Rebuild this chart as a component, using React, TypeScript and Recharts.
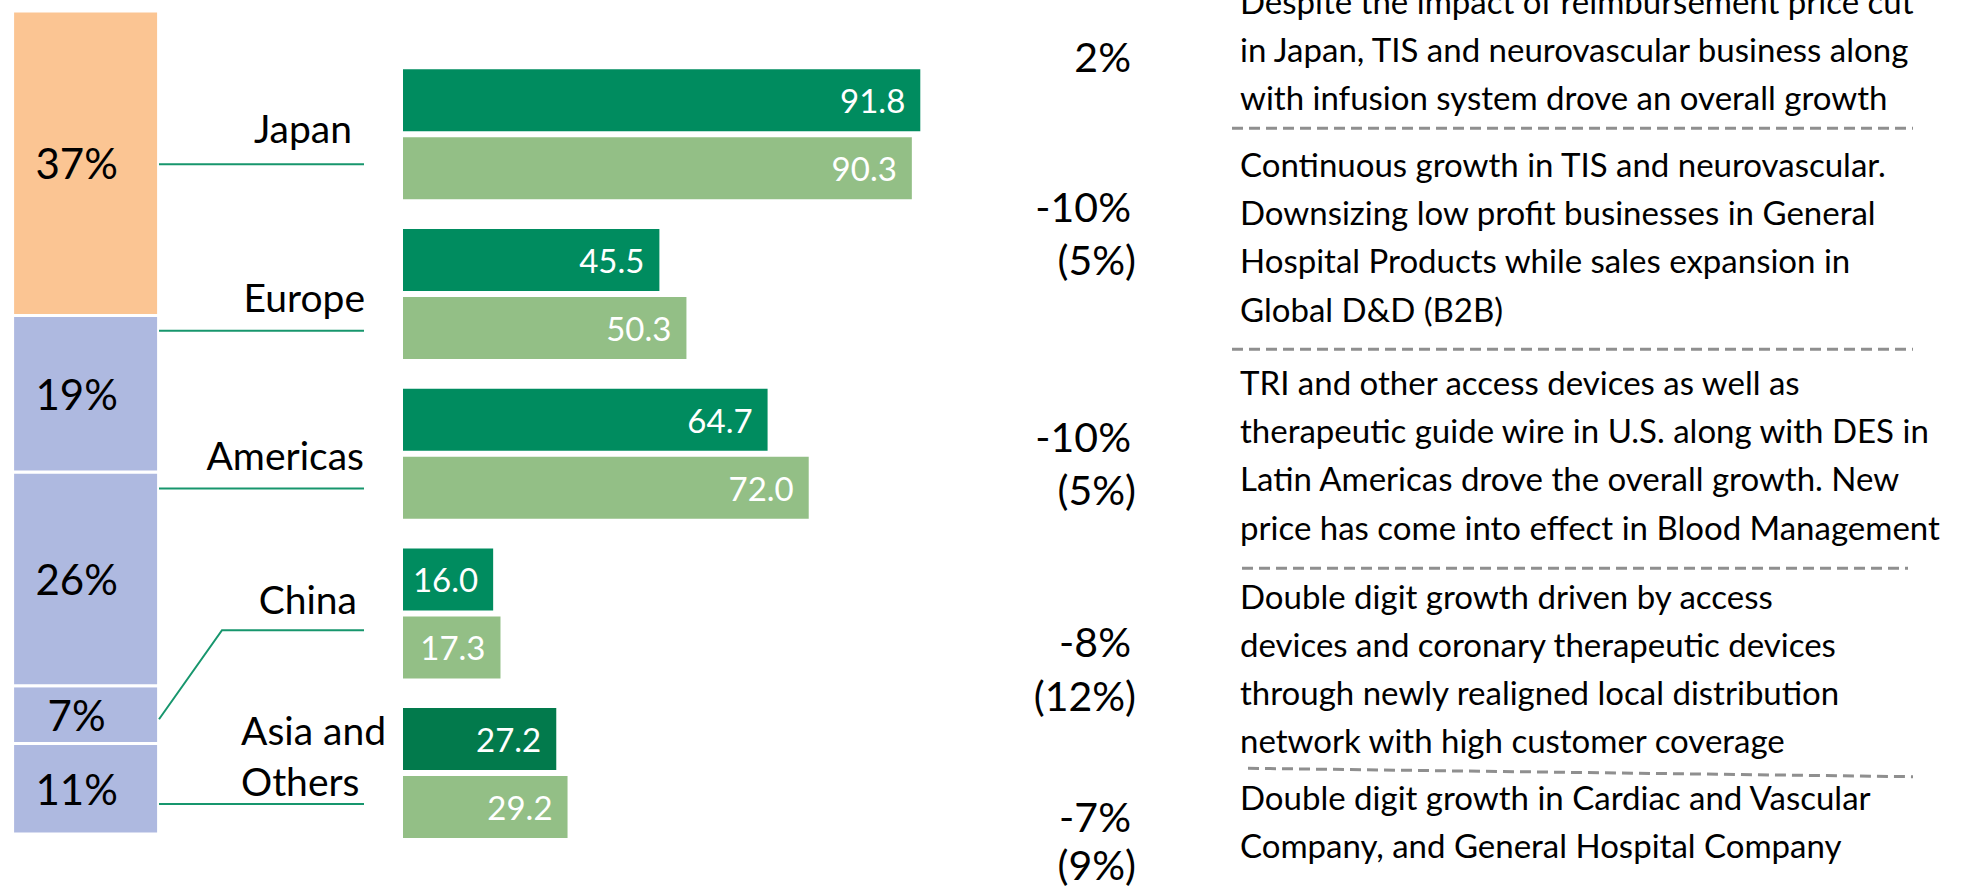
import { Bar, BarChart, Cell, LabelList, XAxis, YAxis } from 'recharts';

const regions = ['Japan', 'Europe', 'Americas', 'China', 'Asia and Others'];
const salesCurrent = [91.8, 45.5, 64.7, 16.0, 27.2];
const salesPrevious = [90.3, 50.3, 72.0, 17.3, 29.2];
const shares = [37, 19, 26, 7, 11];
const growth = [2, -10, -10, -8, -7];
const localGrowth = [null, 5, 5, 12, 9];
const notes = [
  [
    'Despite the impact of reimbursement price cut',
    'in Japan, TIS and neurovascular business along',
    'with infusion system drove an overall growth',
  ],
  [
    'Continuous growth in TIS and neurovascular.',
    'Downsizing low profit businesses in General',
    'Hospital Products while sales expansion in',
    'Global D&D (B2B)',
  ],
  [
    'TRI and other access devices as well as',
    'therapeutic guide wire in U.S. along with DES in',
    'Latin Americas drove the overall growth. New',
    'price has come into effect in Blood Management',
  ],
  [
    'Double digit growth driven by access',
    'devices and coronary therapeutic devices',
    'through newly realigned local distribution',
    'network with high customer coverage',
  ],
  ['Double digit growth in Cardiac and Vascular', 'Company, and General Hospital Company'],
];

const FONT = 'Lato, "Open Sans", sans-serif';
const DARK = '#008c5f';
const DARK_ASIA = '#027a4c';
const LIGHT = '#93bf86';
const ORANGE = '#fbc593';
const BLUE = '#aeb9e0';
const LINK = '#17966d';

// hand placed annotation layout
const labelLayout = [
  { anchor: 'end', x: 352, dy: [9] },
  { anchor: 'end', x: 365, dy: [18] },
  { anchor: 'end', x: 364, dy: [16] },
  { anchor: 'end', x: 357, dy: [1] },
  { anchor: 'start', x: 241, dy: [-28, 23] },
];
const linkLayout = [
  { dy: 30 },
  { dy: 37 },
  { dy: 35 },
  { dy: 17, elbowX: 222, startDy: 106 },
  { dy: 31 },
];
const growthY = [71.7, 221.5, 451.5, 656.7, 831.7];
const localY = [0, 275, 505, 711, 880];
const noteTop = [13.5, 177, 395, 608.5, 810];
const NOTE_LINE = 48.2;
const dividers = [
  [1232, 128.3, 1913, 128.3],
  [1232, 349.3, 1913, 349.3],
  [1242, 568.3, 1908, 568.3],
  [1248, 768.3, 1913, 776.7],
];

const barData = regions.map((region, i) => ({
  region,
  current: salesCurrent[i],
  previous: salesPrevious[i],
}));
const shareRow = regions.reduce((row: any, region, i) => ({ ...row, [region]: shares[i] }), { name: 'share' });

function RegionTick(props: any) {
  const { y, payload } = props;
  const i = regions.indexOf(payload.value);
  if (i < 0) return null;
  const lay = labelLayout[i];
  const link = linkLayout[i];
  const lines = payload.value.includes(' and ') ? ['Asia and', 'Others'] : [payload.value];
  const ly = y + link.dy;
  return (
    <g>
      {lines.map((line: string, k: number) => (
        <text key={k} x={lay.x} y={y + lay.dy[k]} textAnchor={lay.anchor} fontFamily={FONT} fontSize={39} fill="#000">
          {line}
        </text>
      ))}
      {link.elbowX ? (
        <polyline points={`159,${y + link.startDy} ${link.elbowX},${ly} 364,${ly}`} fill="none" stroke={LINK} strokeWidth={2} />
      ) : (
        <line x1={159} y1={ly} x2={364} y2={ly} stroke={LINK} strokeWidth={2} />
      )}
    </g>
  );
}

const renderValue = (props: any) => {
  const { x, y, width, height, value } = props;
  return (
    <text x={x + width - 15} y={y + height / 2} textAnchor="end" dominantBaseline="central" fill="#fff" fontFamily={FONT} fontSize={33}>
      {Number(value).toFixed(1)}
    </text>
  );
};

const renderShare = (props: any) => {
  const { x, y, width, height, value } = props;
  return (
    <text x={x + width / 2 - 9} y={y + height / 2} textAnchor="middle" dominantBaseline="central" fill="#000" fontFamily={FONT} fontSize={42}>
      {value}%
    </text>
  );
};

export default function App() {
  const stackOrder = [...regions].reverse();
  return (
    <div style={{ position: 'absolute', left: 0, top: 0, width: 1976, height: 889, overflow: 'hidden', background: '#fff' }}>
      <div style={{ position: 'absolute', left: 0, top: 0 }}>
        <BarChart width={200} height={889} data={[shareRow]} margin={{ top: 11, right: 41, bottom: 55, left: 12.6 }} barCategoryGap={0}>
          <XAxis dataKey="name" hide />
          <YAxis type="number" domain={[0, 100]} hide />
          {stackOrder.map((region) => (
            <Bar
              key={region}
              dataKey={region}
              stackId="share"
              fill={region === 'Japan' ? ORANGE : BLUE}
              stroke="#fff"
              strokeWidth={3}
              isAnimationActive={false}
            >
              <LabelList dataKey={region} content={renderShare} />
            </Bar>
          ))}
        </BarChart>
      </div>

      <div style={{ position: 'absolute', left: 0, top: 0 }}>
        <BarChart
          width={1000}
          height={889}
          data={barData}
          layout="vertical"
          margin={{ top: 54.3, right: 33.5, bottom: 36.2, left: 402 }}
          barSize={62}
          barGap={6}
        >
          <XAxis type="number" domain={[0, 100]} hide />
          <YAxis type="category" dataKey="region" width={1} axisLine={false} tickLine={false} interval={0} tick={<RegionTick />} />
          <Bar dataKey="current" fill={DARK} isAnimationActive={false}>
            {barData.map((d, i) => (
              <Cell key={d.region} fill={i === 4 ? DARK_ASIA : DARK} />
            ))}
            <LabelList dataKey="current" content={renderValue} />
          </Bar>
          <Bar dataKey="previous" fill={LIGHT} isAnimationActive={false}>
            <LabelList dataKey="previous" content={renderValue} />
          </Bar>
        </BarChart>
      </div>

      <svg width={1976} height={889} style={{ position: 'absolute', left: 0, top: 0 }}>
        {growth.map((g, i) => (
          <text key={`g${i}`} x={1131} y={growthY[i]} textAnchor="end" fontFamily={FONT} fontSize={41} fill="#000">
            {g}%
          </text>
        ))}
        {localGrowth.map((g, i) =>
          g === null ? null : (
            <text key={`l${i}`} x={1136} y={localY[i]} textAnchor="end" fontFamily={FONT} fontSize={41} fill="#000">
              ({g}%)
            </text>
          )
        )}
        {notes.map((block, b) =>
          block.map((line, k) => (
            <text key={`n${b}-${k}`} x={1240} y={noteTop[b] + k * NOTE_LINE} fontFamily={FONT} fontSize={33} fill="#000">
              {line}
            </text>
          ))
        )}
        {dividers.map(([x1, y1, x2, y2], i) => (
          <line key={`d${i}`} x1={x1} y1={y1} x2={x2} y2={y2} stroke="#8f8f8f" strokeWidth={3} strokeDasharray="11 6" />
        ))}
      </svg>
    </div>
  );
}
